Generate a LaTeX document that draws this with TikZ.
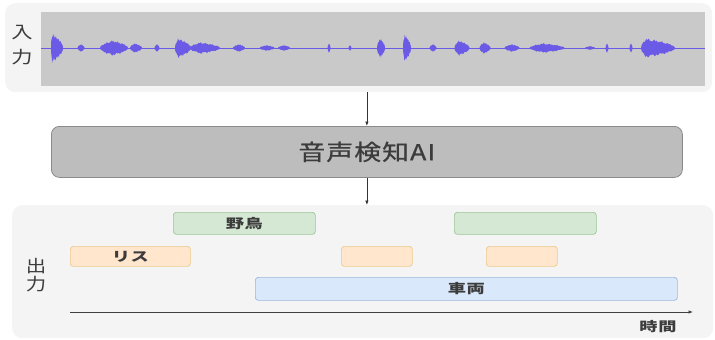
\documentclass[tikz,border=0pt]{standalone}
\usepackage{fontspec}
\setmainfont{Noto Sans CJK JP}
\usetikzlibrary{arrows.meta}
\definecolor{panel}{HTML}{F4F4F4}
\definecolor{wavebg}{HTML}{C9C9C9}
\definecolor{wave}{HTML}{6A5AE6}
\definecolor{aifill}{HTML}{BDBDBD}
\definecolor{aidraw}{HTML}{8A8A8A}
\definecolor{txt}{HTML}{3C3C3C}
\definecolor{gfill}{HTML}{D5E8D4}
\definecolor{gdraw}{HTML}{9CC795}
\definecolor{ofill}{HTML}{FFE6CC}
\definecolor{odraw}{HTML}{EDC98A}
\definecolor{bfill}{HTML}{DAE8FC}
\definecolor{bdraw}{HTML}{9DB5DA}
\newcommand\widetext[2]{\scalebox{#1}[1]{#2}}
\begin{document}
\begin{tikzpicture}[x=1pt,y=-1pt,
  panelbox/.style={fill=panel,draw=none,rounded corners=10pt},
  barfont/.style={font=\fontsize{13}{15}\selectfont\bfseries\addfontfeature{LetterSpace=4}},
  bar/.style={rounded corners=3pt,line width=0.7pt,text=txt,barfont,inner sep=0pt},
  greenbar/.style={bar,fill=gfill,draw=gdraw},
  orangebar/.style={bar,fill=ofill,draw=odraw},
  bluebar/.style={bar,fill=bfill,draw=bdraw},
  conn/.style={draw=black!80,line width=0.7pt,-{Latex[length=4.5pt,width=3.5pt]}},
  vlabel/.style={text=txt,font=\fontsize{17}{18}\selectfont,inner sep=0pt}]
\useasboundingbox (0,0) rectangle (715,340);
% panels
\node[panelbox,minimum width=707pt,minimum height=89pt,anchor=north west] (top) at (5,3) {};
\node[panelbox,minimum width=701pt,minimum height=133pt,anchor=north west] (bot) at (12,205) {};
% waveform box
\node[fill=wavebg,draw=none,minimum width=664pt,minimum height=74pt,anchor=north west,inner sep=0pt] (wavebox) at (41,12) {};
\draw[wave,line width=0.8pt] (wavebox.west |- 0,48) -- (wavebox.east |- 0,48);
% bursts: center, width, amplitude, peak position
\foreach \c/\w/\a/\p in {57/12/15/0.1, 81/7/4/0.5, 114/28/8/0.45, 136/12/5/0.4, 157/5/4/0.5, 183/16/10/0.2, 205/30/6/0.35, 239/12/4/0.5, 267/15/3/0.5, 284/12/3/0.5, 329/3/5/0.5, 350/3/3/0.5,
  381/8/10/0.4, 407/8/14/0.2, 433/7/4/0.5, 462/15/8/0.3, 485/11/6/0.4, 512/15/4/0.5, 547/35/5/0.4, 590/10/2/0.5, 607/3/5/0.5, 631/3/5/0.5, 658/34/10/0.15}{
  \fill[wave] plot[domain=0:1,samples=50]
     ({\c-\w/2+\x*\w},{48-\a*sqrt((\x<\p)*(\x/\p)+(\x>=\p)*((1-\x)/(1-\p)))*(0.72+0.28*abs(sin(\x*2300+\c*7))*abs(cos(\x*900+\c*3)))})
     -- plot[domain=1:0,samples=50]
     ({\c-\w/2+\x*\w},{48+\a*sqrt((\x<\p)*(\x/\p)+(\x>=\p)*((1-\x)/(1-\p)))*(0.72+0.28*abs(sin(\x*1900+\c*11))*abs(cos(\x*700+\c*5)))}) -- cycle;
}
\node[vlabel] (in1) at (22,33) {\widetext{1.25}{入}};
\node[vlabel] (in2) at (22,57) {\widetext{1.25}{力}};
% AI box
\node[fill=aifill,draw=aidraw,line width=0.8pt,rounded corners=8pt,minimum width=631pt,minimum height=51pt,anchor=north west] (ai) at (51,126) {};
\node[text=txt,font=\fontsize{22}{24}\selectfont\addfontfeature{FakeBold=0.6,LetterSpace=4}] (ailbl) at (ai.center) {\widetext{1.22}{音声検知AI}};
\draw[conn] (ai.north |- top.south) -- (ai.north);
\draw[conn] (ai.south) -- (ai.south |- bot.north);
% output
\node[vlabel] (out1) at (36,266) {\widetext{1.2}{出}};
\node[vlabel] (out2) at (36,284) {\widetext{1.2}{力}};
\node[greenbar,minimum width=142pt,minimum height=22pt,anchor=north west] (bird1) at (173,212) {\widetext{1.4}{野鳥}};
\node[greenbar,minimum width=142pt,minimum height=22pt,anchor=north west] (bird2) at (454,212) {};
\node[orangebar,minimum width=120pt,minimum height=20pt,anchor=north west] (sq1) at (70,246) {\widetext{1.4}{リス}};
\node[orangebar,minimum width=71pt,minimum height=20pt,anchor=north west] (sq2) at (341,246) {};
\node[orangebar,minimum width=71pt,minimum height=20pt,anchor=north west] (sq3) at (486,246) {};
\node[bluebar,minimum width=422pt,minimum height=23pt,anchor=north west] (car) at (255,277) {\widetext{1.4}{車両}};
\coordinate (t0) at (70,312);
\coordinate (t1) at (693,312);
\draw[conn,draw=black!75] (t0) -- (t1);
\node[text=txt,barfont] (timelbl) at (658,327) {\widetext{1.4}{時間}};
\end{tikzpicture}
\end{document}
